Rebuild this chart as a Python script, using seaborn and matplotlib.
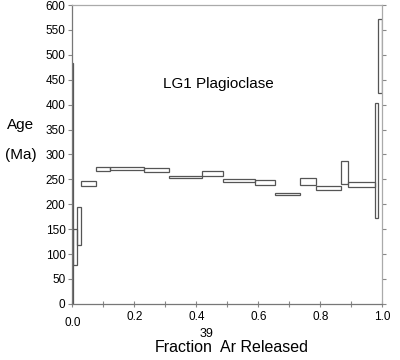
import matplotlib
matplotlib.use("Agg")
import matplotlib.pyplot as plt
import seaborn as sns
import numpy as np

# kumulativ fraktion 39Ar (vänster kant och höger kant för varje steg)
frac_left = [0.000, 0.002, 0.015, 0.027, 0.076, 0.122, 0.231, 0.310, 0.417,
             0.485, 0.589, 0.652, 0.735, 0.787, 0.867, 0.890, 0.977, 0.987]
frac_right = [0.002, 0.015, 0.027, 0.076, 0.122, 0.231, 0.310, 0.417, 0.485,
              0.589, 0.652, 0.735, 0.787, 0.867, 0.890, 0.977, 0.987, 1.000]
# ålder (Ma), nedre och övre gräns för varje steg
age_low = [0, 78, 118, 236, 266, 269, 265, 252, 257, 245, 238, 218, 238, 228, 240, 235, 172, 424]
age_high = [484, 150, 195, 247, 275, 275, 272, 257, 266, 250, 248, 223, 252, 236, 286, 245, 404, 572]

sample_label = "LG1 Plagioclase"
y_ticks = list(range(0, 601, 50))
x_ticks = [0.0, 0.2, 0.4, 0.6, 0.8, 1.0]

sns.set_theme(style="ticks")
plt.rcParams['font.family'] = ['Liberation Sans', 'DejaVu Sans']
plt.rcParams['text.color'] = 'black'
plt.rcParams['xtick.labelcolor'] = 'black'
plt.rcParams['ytick.labelcolor'] = 'black'

fig = plt.figure(figsize=(4, 3.6), dpi=100)
ax = fig.add_axes([0.181, 0.156, 0.775, 0.830])

left = np.array(frac_left)
width = np.array(frac_right) - left
low = np.array(age_low)
height = np.array(age_high) - low
ax.bar(left, height, bottom=low, width=width, align='edge', fill=False,
       edgecolor='#555555', linewidth=0.9)

ax.set_xlim(0, 1)
ax.set_ylim(0, 600)
ax.set_yticks(y_ticks)
ax.set_xticks(x_ticks)
ax.set_xticks(np.arange(0.1, 1.0, 0.2), minor=True)
ax.set_xticklabels([f"{v:.1f}" for v in x_ticks])

for s in ['left', 'bottom']:
    ax.spines[s].set_color('#777777')
for s in ['top', 'right']:
    ax.spines[s].set_color('#aaaaaa')
for s in ax.spines.values():
    s.set_linewidth(0.9)

ax.tick_params(axis='y', which='both', left=True, right=True, direction='out',
               length=3, width=0.8, color='#888888', labelsize=8.5, pad=2)
ax.tick_params(axis='x', which='both', direction='inout', length=5, width=0.8,
               color='#888888', labelsize=8.5, pad=3)
ax.tick_params(axis='x', which='minor', length=4)
# 0.0 sitter lite lägre i originalet
ax.xaxis.get_major_ticks()[0].set_pad(7)

ax.text(0.47, 442, sample_label, fontsize=11, ha='center', va='center')

fig.text(0.052, 0.653, "Age", fontsize=11, ha='center', va='center')
fig.text(0.052, 0.569, "(Ma)", fontsize=11, ha='center', va='center')
fig.text(0.46, 0.036, "Fraction", fontsize=11.5, ha='center', va='center')
fig.text(0.517, 0.072, "39", fontsize=9, ha='center', va='center')
fig.text(0.659, 0.036, "Ar Released", fontsize=11.5, ha='center', va='center')

fig.savefig("out.png", dpi=100)
